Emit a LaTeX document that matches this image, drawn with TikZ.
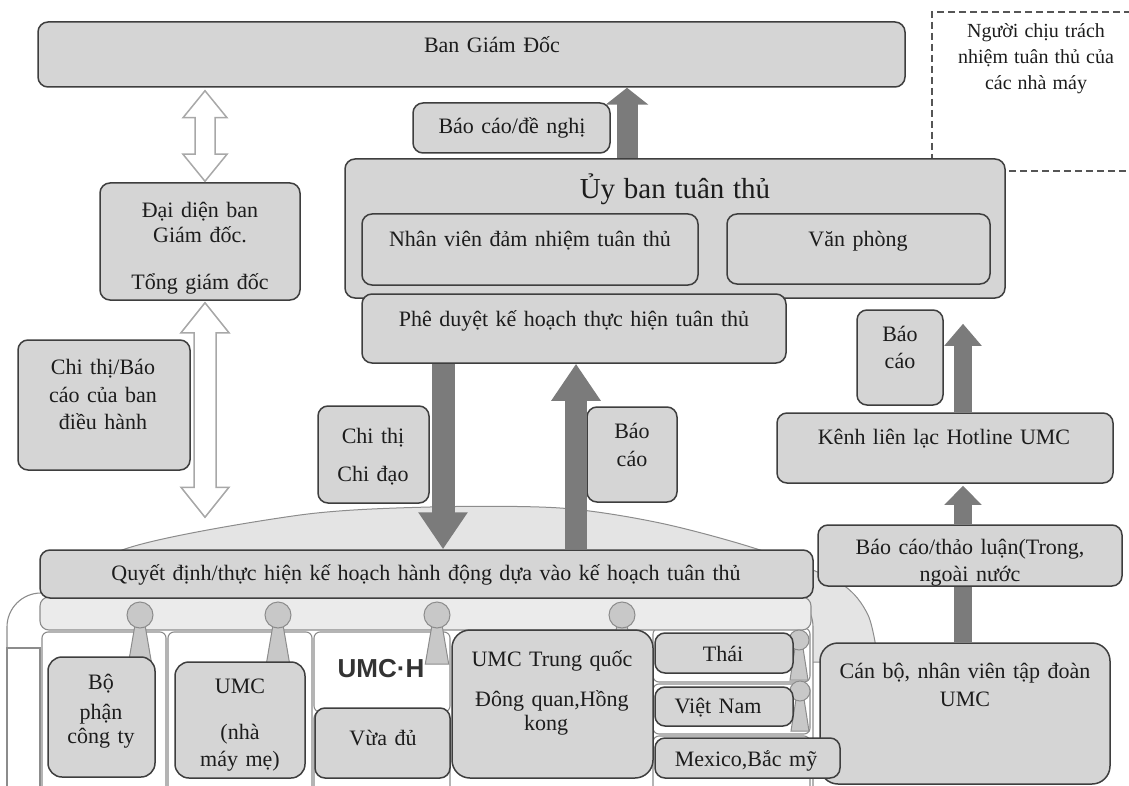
\documentclass[tikz,border=0pt]{standalone}
\usepackage{fontspec}
\setmainfont{Liberation Serif}
\setsansfont{Liberation Sans}
\usetikzlibrary{arrows.meta,calc,fit}
\definecolor{boxfill}{HTML}{D5D5D5}
\definecolor{boxline}{HTML}{3E3E3E}
\definecolor{arrowgray}{HTML}{7B7B7B}
\definecolor{domefill}{HTML}{E4E4E4}
\definecolor{frameline}{HTML}{8C8C8C}
\definecolor{hollowline}{HTML}{A8A8A8}
\definecolor{txtcol}{HTML}{1C1C1C}
\definecolor{dashcol}{HTML}{555555}
\definecolor{bandfill}{HTML}{EBEBEB}
\definecolor{headfill}{HTML}{C8C8C8}
\newcommand{\wideA}{\fontsize{22}{26}\selectfont\spaceskip=0.34em\relax}
\newcommand{\wideS}{\fontsize{20}{24}\selectfont\spaceskip=0.3em\relax}
\newcommand{\wideL}{\fontsize{29}{34}\selectfont\spaceskip=0.3em\relax}
\newcommand{\hollowdbl}[5]{%
  \draw[hollow] (#1) -- ($(#1)+(#3,#4)$) -- ($(#1)+(#5,#4)$) -- ($(#2)+(#5,-#4)$) -- ($(#2)+(#3,-#4)$) -- (#2)
    -- ($(#2)+(-#3,-#4)$) -- ($(#2)+(-#5,-#4)$) -- ($(#1)+(-#5,#4)$) -- ($(#1)+(-#3,#4)$) -- cycle;}
\newcommand{\personicon}[3]{%
  \filldraw[pers] ({#1-0.4*#3},{#2+#3-2}) -- ({#1+0.4*#3},{#2+#3-2}) -- ({#1+0.9*#3},{#2+3*#3+10}) -- ({#1-0.9*#3},{#2+3*#3+10}) -- cycle;
  \filldraw[pers] (#1,#2) circle[radius=#3];}
\begin{document}
\begin{tikzpicture}[x=1pt,y=-1pt,
  bx/.style={draw=boxline,fill=boxfill,line width=1.5pt,rounded corners=10pt,inner sep=0pt},
  fr/.style={draw=frameline,fill=white,line width=1.1pt,rounded corners=6pt},
  tx/.style={font=\wideA,anchor=base,inner sep=0pt,text=txtcol},
  txs/.style={font=\wideS,anchor=base,inner sep=0pt,text=txtcol},
  txl/.style={font=\wideL,anchor=base,inner sep=0pt,text=txtcol},
  hollow/.style={draw=hollowline,fill=white,line width=1.5pt,line join=miter},
  darrow/.style={draw=arrowgray,line width=#1},
  pers/.style={fill=headfill,draw=frameline,line width=1pt},
]
\useasboundingbox (0,0) rectangle (1129,786);

% ---- dome and building ----
\filldraw[fill=domefill,draw=frameline,line width=1pt] plot[smooth] coordinates
  {(15,690) (40,600) (128,548) (300,515) (430,507) (560,508) (660,523) (760,550) (840,583) (868,615) (878,660)} -- cycle;
\filldraw[fr,rounded corners=34pt] (7,800) -- (7,593) -- (813,593) -- (813,800);
\filldraw[fr,rounded corners=0pt] (7,648) rectangle (40,800);
\filldraw[fr] (42,632) rectangle (166,800);
\filldraw[fr] (168,632) rectangle (312,800);
\filldraw[fr] (314,632) rectangle (450,712);
\filldraw[fr] (314,712) rectangle (450,800);
\filldraw[fr] (653,628) rectangle (810,682);
\filldraw[fr] (653,684) rectangle (810,734);
\filldraw[fr] (653,736) rectangle (810,800);
\filldraw[fr,fill=bandfill,rounded corners=9pt] (40,597) rectangle (811,630);

% persons
\personicon{140}{615}{13}
\personicon{278}{615}{13}
\personicon{437}{615}{13}
\personicon{622}{615}{13}
\personicon{799}{640}{10}
\personicon{800}{691}{10}

% ---- top ----
\node[bx,fit={(38,22)(905,87)}] (ban) {};
\node[tx] (tban) at (492,53) {Ban Giám Đốc};
\node[bx,fit={(413,103)(610,153)}] (bcdn) {};
\node[tx] (tbcdn) at (512,134) {Báo cáo/đề nghị};

\node[draw=dashcol,dash pattern=on 7pt off 4pt,line width=1.3pt,inner sep=0pt,fit={(932,12)(1150,171)}] (nguoi) {};
\node[txs] (tng1) at (1036,38) {Người chịu trách};
\node[txs] (tng2) at (1036,64) {nhiệm tuân thủ của};
\node[txs] (tng3) at (1036,90) {các nhà máy};

\node[bx,fit={(345,159)(1005,298)}] (uyban) {};
\node[txl] (tuy) at (675,199) {Ủy ban tuân thủ};
\node[bx,fit={(362,214)(698,285)}] (nv) {};
\node[tx] (tnv) at (530,247) {Nhân viên đảm nhiệm tuân thủ};
\node[bx,fit={(727,214)(990,284)}] (vp) {};
\node[tx] (tvp) at (858,247) {Văn phòng};
\node[bx,fit={(362,294)(786,363)}] (phe) {};
\node[tx] (tphe) at (574,326) {Phê duyệt kế hoạch thực hiện tuân thủ};

\node[bx,fit={(100,183)(300,300)}] (dd) {};
\node[tx] (tdd1) at (200,218) {Đại diện ban};
\node[tx] (tdd2) at (200,243) {Giám đốc.};
\node[tx] (tdd3) at (200,289) {Tổng giám đốc};

\node[bx,fit={(18,340)(190,470)}] (ctb) {};
\node[tx] (tctb1) at (103,374) {Chi thị/Báo};
\node[tx] (tctb2) at (103,402) {cáo của ban};
\node[tx] (tctb3) at (103,429) {điều hành};

\node[bx,fit={(318,406)(429,503)}] (ctcd) {};
\node[tx] (tctcd1) at (373,443) {Chi thị};
\node[tx] (tctcd2) at (373,481) {Chi đạo};

\node[bx,fit={(587,407)(677,502)}] (bcm) {};
\node[tx] (tbcm1) at (632,438) {Báo};
\node[tx] (tbcm2) at (632,466) {cáo};

\node[bx,fit={(857,310)(943,405)}] (bcr) {};
\node[tx] (tbcr1) at (900,341) {Báo};
\node[tx] (tbcr2) at (900,368) {cáo};

\node[bx,fit={(777,413)(1113,483)}] (kenh) {};
\node[tx] (tkenh) at (944,444) {Kênh liên lạc Hotline UMC};

\node[bx,fit={(818,525)(1122,586)}] (btl) {};
\node[tx] (tbtl1) at (970,554) {Báo cáo/thảo luận(Trong,};
\node[tx] (tbtl2) at (970,581) {ngoài nước};

\node[bx,fit={(820,643)(1110,784)},rounded corners=18pt] (canbo) {};
\node[tx] (tcb1) at (965,678) {Cán bộ, nhân viên tập đoàn};
\node[tx] (tcb2) at (965,706) {UMC};

\node[bx,fit={(40,550)(813,598)}] (qd) {};
\node[tx] (tqd) at (426,580) {Quyết định/thực hiện kế hoạch hành động dựa vào kế hoạch tuân thủ};

% ---- bottom boxes ----
\node[bx,fit={(48,657)(155,777)},rounded corners=14pt] (bp) {};
\node[tx] (tbp1) at (101,689) {Bộ};
\node[tx] (tbp2) at (101,719) {phận};
\node[tx] (tbp3) at (101,743) {công ty};

\node[bx,fit={(175,662)(305,778)},rounded corners=14pt] (umc) {};
\node[tx] (tumc1) at (240,693) {UMC};
\node[tx] (tumc2) at (240,739) {(nhà};
\node[tx] (tumc3) at (240,766) {máy mẹ)};

\node[font=\sffamily\bfseries\fontsize{26}{30}\selectfont,text=black!80,anchor=base,inner sep=0pt] (umch) at (381,677) {UMC·H};
\node[bx,fit={(315,708)(450,778)}] (vd) {};
\node[tx] (tvd) at (383,745) {Vừa đủ};

\node[bx,fit={(452,630)(653,778)},rounded corners=18pt] (tq) {};
\node[tx] (ttq1) at (552,666) {UMC Trung quốc};
\node[tx] (ttq2) at (552,706) {Đông quan,Hồng};
\node[tx] (ttq3) at (546,730) {kong};

\node[bx,fit={(655,633)(793,673)}] (thai) {};
\node[tx] (tthai) at (723,661) {Thái};
\node[bx,fit={(655,687)(793,726)}] (vn) {};
\node[tx] (tvn) at (718,713) {Việt Nam};
\node[bx,fit={(655,738)(840,778)}] (mx) {};
\node[tx] (tmx) at (746,766) {Mexico,Bắc mỹ};

% ---- arrows ----
\coordinate (ax0) at (205,0);
\coordinate (ax1) at (627,0);
\coordinate (ax2) at (443,0);
\coordinate (ax3) at (576,0);
\coordinate (ax4) at (963,0);

\coordinate (h1t) at ($(ax0 |- ban.south)+(0,3)$);
\coordinate (h1b) at ($(ax0 |- dd.north)+(0,-1)$);
\coordinate (h2t) at ($(ax0 |- dd.south)+(0,2)$);
\coordinate (h2b) at ($(ax0 |- qd.north)+(0,-32)$);
\hollowdbl{h1t}{h1b}{22}{27}{10}
\hollowdbl{h2t}{h2b}{24}{30}{11}

\draw[darrow=21pt,-{Triangle[width=42pt,length=17pt]}] (ax1 |- uyban.north) -- (ax1 |- ban.south);
\draw[darrow=23pt,-{Triangle[width=47pt,length=37pt]}] (ax2 |- phe.south) -- (ax2 |- qd.north);
\draw[darrow=22pt,-{Triangle[width=47pt,length=37pt]}] (ax3 |- qd.north) -- (ax3 |- phe.south);
\coordinate (a4end) at ($(ax4 |- uyban.south)+(0,25)$);
\draw[darrow=18pt,-{Triangle[width=36pt,length=22pt]}] (ax4 |- kenh.north) -- (a4end);
\coordinate (a5end) at ($(ax4 |- kenh.south)+(0,2)$);
\draw[darrow=18pt,-{Triangle[width=36pt,length=19pt]}] (ax4 |- btl.north) -- (a5end);
\draw[darrow=18pt] (ax4 |- canbo.north) -- (ax4 |- btl.south);
\end{tikzpicture}
\end{document}
